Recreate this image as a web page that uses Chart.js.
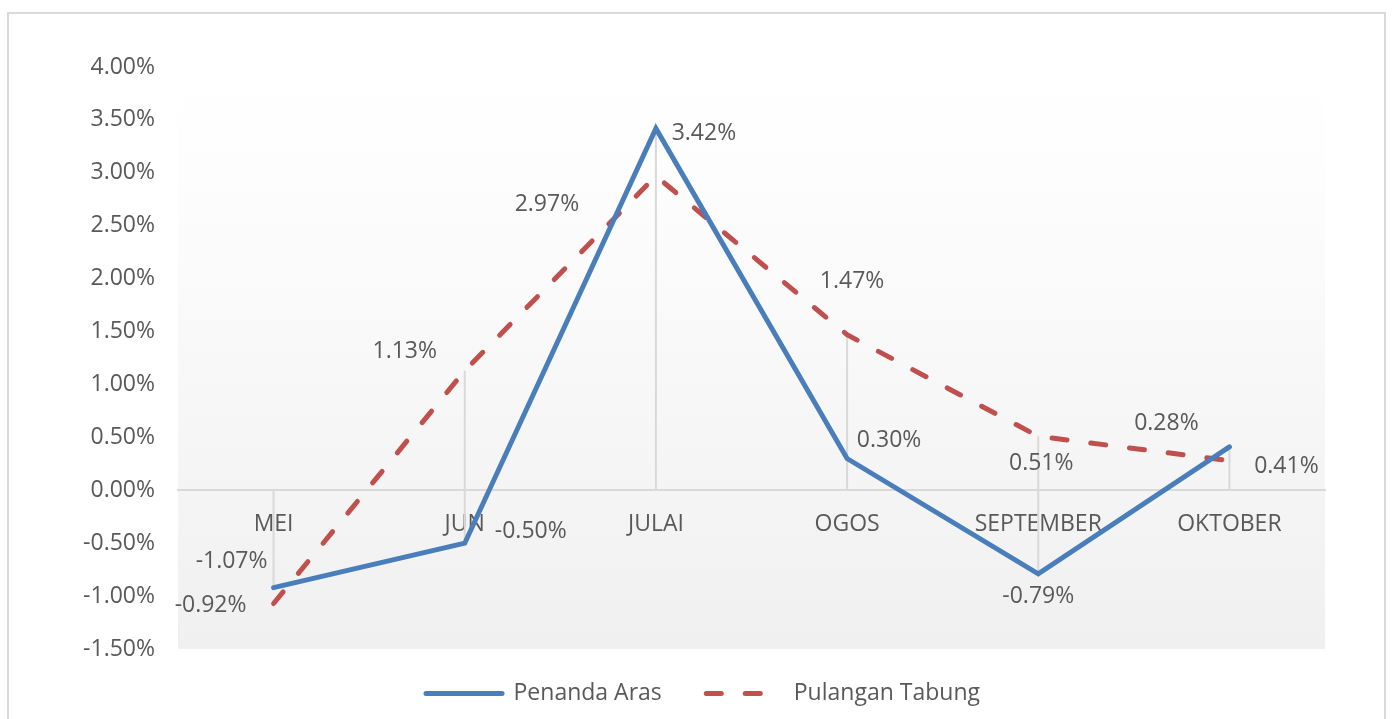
<!DOCTYPE html>
<html>
<head>
<meta charset="utf-8">
<script src="https://cdn.jsdelivr.net/npm/chart.js@4.4.1/dist/chart.umd.min.js"></script>
<style>
  html, body { margin: 0; padding: 0; background: #fff; }
  #wrap { position: relative; width: 1392px; height: 719px; }
</style>
</head>
<body>
<div id="wrap"><canvas id="linhas"></canvas></div>
<script>
// data
const bulan = ["MEI", "JUN", "JULAI", "OGOS", "SEPTEMBER", "OKTOBER"];
const penandaAras = [-0.92, -0.50, 3.42, 0.30, -0.79, 0.41];
const pulanganTabung = [-1.07, 1.13, 2.97, 1.47, 0.51, 0.28];
const yTicks = [-1.5, -1.0, -0.5, 0, 0.5, 1.0, 1.5, 2.0, 2.5, 3.0, 3.5, 4.0];

// where each value label sits relative to its point (dx, dy)
const offsetBiru = [[-63, 18], [66, -12], [48, 5], [42, -18], [0, 23], [57, 20]];
const offsetMerah = [[-42, -42], [-60, -19], [-109, 28], [5, -53], [3, 27], [-63, -37]];

const teks = "#595959";
const fonte = "'Open Sans', 'Noto Sans', sans-serif";

// fundo em degradê + moldura
const fundo = {
    id: "fundo",
    beforeDraw(chart) {
        let { ctx, chartArea: a } = chart;
        ctx.save();
        let g = ctx.createLinearGradient(0, a.top, 0, a.bottom);
        g.addColorStop(0, "#ffffff");
        g.addColorStop(0.2, "#fdfdfd");
        g.addColorStop(1, "#f0f0f0");
        ctx.fillStyle = g;
        ctx.fillRect(a.left, a.top, a.right - a.left, a.bottom - a.top);
        ctx.strokeStyle = "#d9d9d9";
        ctx.lineWidth = 2;
        ctx.strokeRect(8, 13, 1377, 730);
        ctx.restore();
    }
};

// drop lines (linhas verticais até o eixo)
const dropLines = {
    id: "dropLines",
    beforeDatasetsDraw(chart) {
        let { ctx, scales: { x, y } } = chart;
        ctx.save();
        ctx.strokeStyle = "#d9d9d9";
        ctx.lineWidth = 2;
        bulan.forEach((b, i) => {
            let alto = Math.max(penandaAras[i], pulanganTabung[i], 0);
            let baixo = Math.min(penandaAras[i], 0);
            let px = x.getPixelForValue(i);
            ctx.beginPath();
            ctx.moveTo(px, y.getPixelForValue(alto));
            ctx.lineTo(px, y.getPixelForValue(baixo));
            ctx.stroke();
        });
        ctx.restore();
    }
};

// rótulos dos valores
const rotulos = {
    id: "rotulos",
    afterDatasetsDraw(chart) {
        let { ctx } = chart;
        let offs = [offsetBiru, offsetMerah];
        ctx.save();
        ctx.font = "23px " + fonte;
        ctx.fillStyle = teks;
        ctx.textAlign = "center";
        ctx.textBaseline = "middle";
        chart.data.datasets.forEach((ds, d) => {
            chart.getDatasetMeta(d).data.forEach((pt, i) => {
                let [dx, dy] = offs[d][i];
                ctx.fillText(ds.data[i].toFixed(2) + "%", pt.x + dx, pt.y + dy);
            });
        });
        ctx.restore();
    }
};

Chart.defaults.font.family = fonte;
Chart.defaults.color = teks;

let linhas = new Chart(document.getElementById("linhas"), {
    type: "line",
    data: {
        labels: bulan,
        datasets: [
            {
                label: "Penanda Aras",
                data: penandaAras,
                borderColor: "#4a7ebb",
                backgroundColor: "#4a7ebb",
                borderWidth: 5,
                borderCapStyle: "round",
                pointRadius: 0,
                tension: 0
            },
            {
                label: "Pulangan Tabung",
                data: pulanganTabung,
                borderColor: "#c0504d",
                backgroundColor: "#c0504d",
                borderWidth: 5,
                borderDash: [15, 24],
                borderCapStyle: "round",
                pointRadius: 0,
                tension: 0
            }
        ]
    },
    options: {
        responsive: true,
        maintainAspectRatio: false,
        animation: false,
        layout: { padding: { left: 81, right: 67, top: 67, bottom: 4 } },
        scales: {
            x: {
                position: { y: 0 },
                offset: true,
                grid: { display: false, drawTicks: false },
                border: { display: true, color: "#d9d9d9", width: 2 },
                ticks: { padding: 20, color: teks, font: { size: 23 } }
            },
            y: {
                min: -1.5,
                max: 4,
                grid: { display: false, drawTicks: false },
                border: { display: false },
                afterFit(scale) { scale.width = 97; },
                afterBuildTicks(scale) { scale.ticks = yTicks.map(v => ({ value: v })); },
                ticks: {
                    padding: 23,
                    color: teks,
                    font: { size: 23 },
                    callback: (v) => Number(v).toFixed(2) + "%"
                }
            }
        },
        plugins: {
            legend: {
                display: true,
                position: "bottom",
                labels: {
                    usePointStyle: true,
                    pointStyle: "line",
                    pointStyleWidth: 76,
                    padding: 33,
                    color: teks,
                    font: { size: 23 },
                    // o tracejado some com usePointStyle, então repõe aqui
                    generateLabels(chart) {
                        let itens = Chart.defaults.plugins.legend.labels.generateLabels(chart);
                        itens.forEach((it, i) => {
                            let ds = chart.data.datasets[it.datasetIndex];
                            it.lineDash = ds.borderDash || [];
                            it.lineCap = "round";
                            if (i === 0) it.text = it.text + "\u2002";
                        });
                        return itens;
                    }
                }
            },
            tooltip: { enabled: false }
        }
    },
    plugins: [fundo, dropLines, rotulos]
});
</script>
</body>
</html>
